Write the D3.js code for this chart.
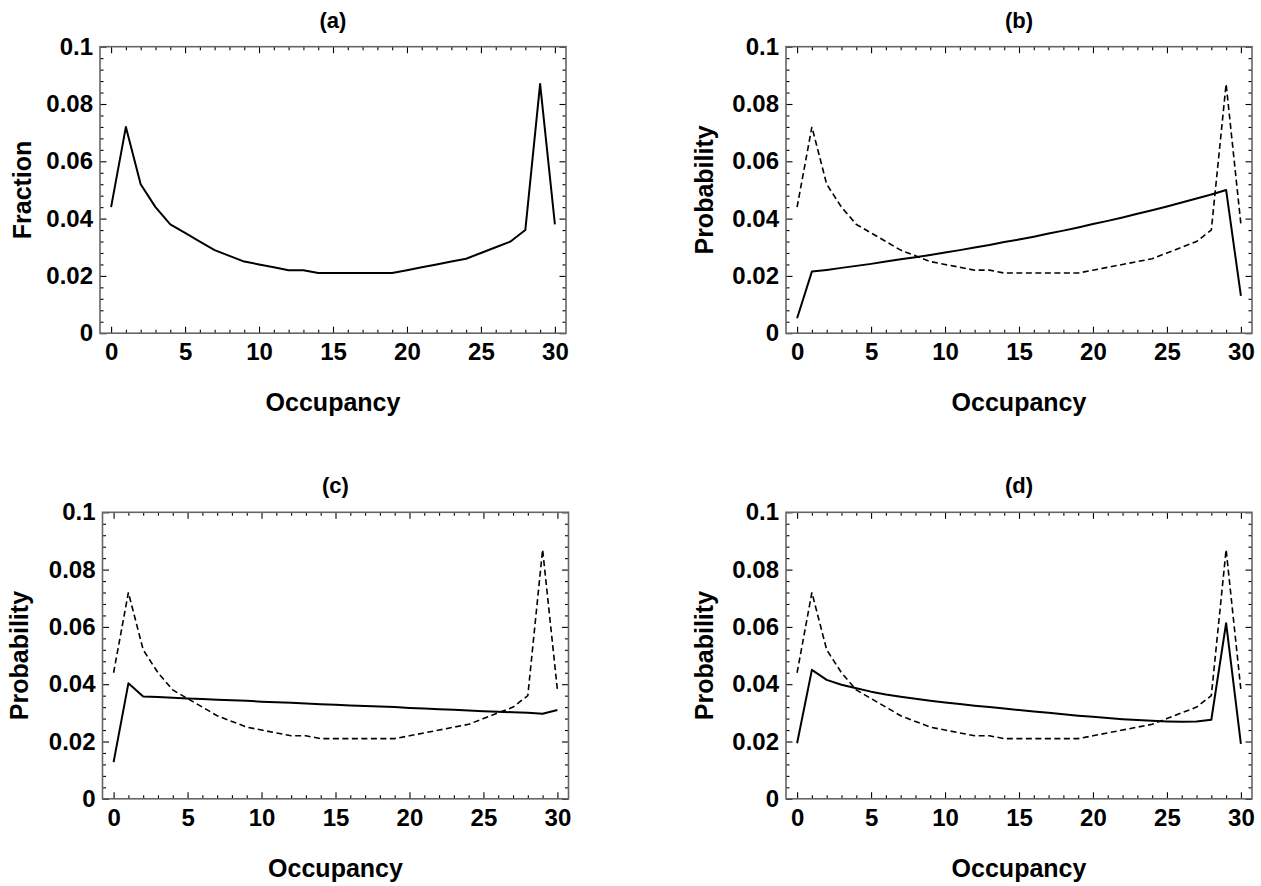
<!DOCTYPE html>
<html>
<head>
<meta charset="utf-8">
<script src="https://cdn.jsdelivr.net/npm/d3@7"></script>
<style>
  body { margin: 0; background: #fff; }
  text { font-family: "Liberation Sans", Arial, sans-serif; font-weight: bold; fill: #000; }
</style>
</head>
<body>
<div id="chart"></div>
<script>
// occupancy 0..30
var occupancy = d3.range(0, 31);

// measured fraction (panel a, dashed in b-d)
var fraction = [0.044, 0.072, 0.052, 0.044, 0.038, 0.035, 0.032, 0.029, 0.027, 0.025,
  0.024, 0.023, 0.022, 0.022, 0.021, 0.021, 0.021, 0.021, 0.021, 0.021,
  0.022, 0.023, 0.024, 0.025, 0.026, 0.028, 0.030, 0.032, 0.036, 0.087, 0.038];

var probB = [0.0052, 0.0215, 0.0221, 0.0228, 0.0235, 0.0242, 0.0250, 0.0258, 0.0265, 0.0273,
  0.0282, 0.0290, 0.0299, 0.0308, 0.0318, 0.0327, 0.0337, 0.0348, 0.0358, 0.0369,
  0.0381, 0.0392, 0.0404, 0.0417, 0.0429, 0.0442, 0.0456, 0.0470, 0.0484, 0.0500, 0.0130];

var probC = [0.0128, 0.0403, 0.0357, 0.0355, 0.0353, 0.0350, 0.0348, 0.0346, 0.0344, 0.0342,
  0.0339, 0.0337, 0.0335, 0.0333, 0.0330, 0.0328, 0.0326, 0.0324, 0.0322, 0.0320,
  0.0317, 0.0315, 0.0313, 0.0311, 0.0308, 0.0306, 0.0304, 0.0302, 0.0300, 0.0297, 0.0310];

var probD = [0.0194, 0.0450, 0.0415, 0.0398, 0.0386, 0.0374, 0.0364, 0.0356, 0.0349, 0.0342,
  0.0336, 0.0331, 0.0325, 0.0320, 0.0315, 0.0310, 0.0305, 0.0300, 0.0295, 0.0290,
  0.0286, 0.0282, 0.0278, 0.0275, 0.0272, 0.0270, 0.0269, 0.0270, 0.0276, 0.0613, 0.0192];

var titles = ["(a)", "(b)", "(c)", "(d)"];
var yLabels = ["Fraction", "Probability", "Probability", "Probability"];
var xLabel = "Occupancy";

var xMajor = [0, 5, 10, 15, 20, 25, 30];
var yMajor = [0, 0.02, 0.04, 0.06, 0.08, 0.1];

// layout of the four frames
var W = 466, H = 286.5;
var layout = [
  {left: 100, top: 46.7, labX: 78},
  {left: 786, top: 46.7, labX: 82},
  {left: 102.5, top: 512.3, labX: 84},
  {left: 786, top: 512.3, labX: 82}
];

var panels = [
  {solid: fraction, dashed: null},
  {solid: probB, dashed: fraction},
  {solid: probC, dashed: fraction},
  {solid: probD, dashed: fraction}
];

var svg = d3.select("#chart").append("svg")
  .attr("width", 1261)
  .attr("height", 886);

var x = d3.scaleLinear().domain([-0.75, 30.75]).range([0, W]);
var y = d3.scaleLinear().domain([0, 0.1]).range([H, 0]);

var xMinor = occupancy.filter(d => d % 5 != 0);
var yMinor = d3.range(0, 0.1001, 0.004).filter(d => Math.abs(Math.round(d / 0.02) * 0.02 - d) > 1e-6);

var fmtY = d => d === 0 ? "0" : String(+d.toFixed(2));

var line = d3.line()
  .x((d, i) => x(occupancy[i]))
  .y(d => y(d));

function ax(gen, scale, vals, size, fmt) {
  return gen(scale).tickValues(vals).tickSizeInner(-size).tickSizeOuter(0).tickFormat(fmt);
}

panels.forEach(function (p, k) {
  var L = layout[k];
  var g = svg.append("g").attr("transform", "translate(" + L.left + "," + L.top + ")");

  // ticks on all four sides, pointing inwards
  var sides = [
    {gen: d3.axisBottom, s: x, t: "translate(0," + H + ")", major: xMajor, minor: xMinor, lab: true},
    {gen: d3.axisTop, s: x, t: "translate(0,0)", major: xMajor, minor: xMinor, lab: false},
    {gen: d3.axisLeft, s: y, t: "translate(0,0)", major: yMajor, minor: yMinor, lab: true},
    {gen: d3.axisRight, s: y, t: "translate(" + W + ",0)", major: yMajor, minor: yMinor, lab: false}
  ];
  sides.forEach(function (sd) {
    var gm = g.append("g").attr("transform", sd.t).call(ax(sd.gen, sd.s, sd.minor, 3.5, ""));
    var gM = g.append("g").attr("transform", sd.t)
      .call(ax(sd.gen, sd.s, sd.major, 6.5, sd.lab ? (sd.s === y ? fmtY : d3.format("d")) : ""));
    [gm, gM].forEach(function (a) {
      a.select(".domain").remove();
      a.selectAll(".tick line").attr("stroke", "#000").attr("stroke-width", 1.1);
    });
    gM.selectAll(".tick text")
      .attr("font-size", 24)
      .style("font-family", '"Liberation Sans", Arial, sans-serif')
      .style("font-weight", "bold");
  });

  // frame
  g.append("rect")
    .attr("width", W).attr("height", H)
    .attr("fill", "none")
    .attr("stroke", "#666")
    .attr("stroke-width", 1.6);

  // data lines
  if (p.dashed) {
    g.append("path").datum(p.dashed)
      .attr("fill", "none").attr("stroke", "#000").attr("stroke-width", 1.6)
      .attr("stroke-dasharray", "6,3.5")
      .attr("d", line);
  }
  g.append("path").datum(p.solid)
    .attr("fill", "none").attr("stroke", "#000").attr("stroke-width", 2)
    .attr("stroke-linejoin", "round")
    .attr("d", line);

  // titles and labels
  g.append("text")
    .attr("x", W / 2).attr("y", -19)
    .attr("text-anchor", "middle")
    .attr("font-size", 22)
    .text(titles[k]);

  g.append("text")
    .attr("x", W / 2).attr("y", H + 78)
    .attr("text-anchor", "middle")
    .attr("font-size", 25)
    .text(xLabel);

  g.append("text")
    .attr("transform", "translate(" + (-L.labX) + "," + (H / 2) + ") rotate(-90)")
    .attr("dy", "0.36em")
    .attr("text-anchor", "middle")
    .attr("font-size", 25)
    .text(yLabels[k]);
});

// tick label offsets
svg.selectAll(".tick text").each(function () {
  var t = d3.select(this);
  if (t.attr("x") !== null && +t.attr("x") < 0) t.attr("x", -7);
  if (t.attr("y") !== null && +t.attr("y") > 0) t.attr("y", 10);
});
</script>
</body>
</html>
